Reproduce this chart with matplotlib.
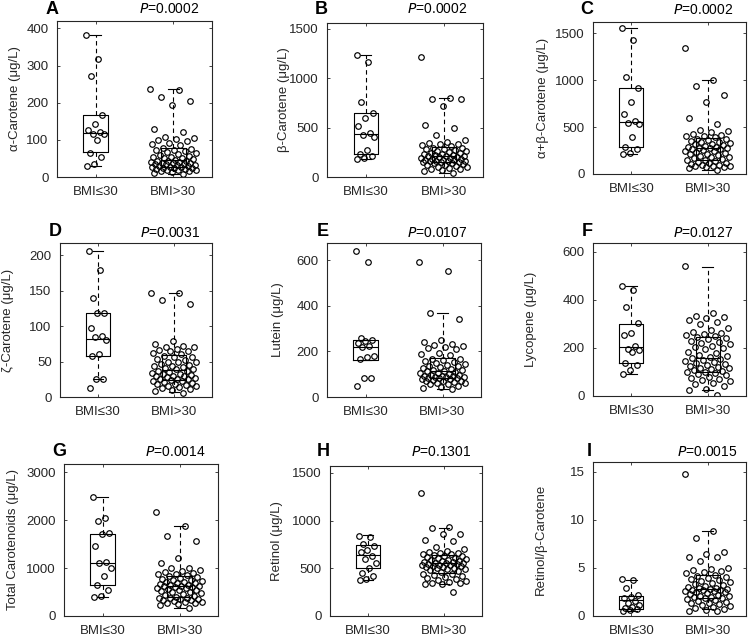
import numpy as np
import matplotlib
matplotlib.use("Agg")
import matplotlib.pyplot as plt

plt.rcParams['font.family'] = ['Liberation Sans', 'DejaVu Sans']
plt.rcParams['font.size'] = 10

# group names on the x axis
groups = ['BMI≤30', 'BMI>30']

# panel letters, p values, y labels
letters = ['A', 'B', 'C', 'D', 'E', 'F', 'G', 'H', 'I']
pvalues = ['0.0002', '0.0002', '0.0002', '0.0031', '0.0107', '0.0127', '0.0014', '0.1301', '0.0015']
ylabels = ['α-Carotene (μg/L)', 'β-Carotene (μg/L)', 'α+β-Carotene (μg/L)',
           'ζ-Carotene (μg/L)', 'Lutein (μg/L)', 'Lycopene (μg/L)',
           'Total Carotenoids (μg/L)', 'Retinol (μg/L)', 'Retinol/β-Carotene']
ymax = [420, 1560, 1620, 217, 675, 637, 3170, 1573, 16]
yticks = [[0, 100, 200, 300, 400], [0, 500, 1000, 1500], [0, 500, 1000, 1500],
          [0, 50, 100, 150, 200], [0, 200, 400, 600], [0, 200, 400, 600],
          [0, 1000, 2000, 3000], [0, 500, 1000, 1500], [0, 5, 10, 15]]

# values, BMI<=30 then BMI>30
a_low = [383, 318, 272, 167, 144, 126, 122, 117, 115, 99, 65, 54, 36, 30]
a_high = [236, 234, 215, 205, 193, 128, 120, 108, 105, 102, 100, 97, 92, 88, 85,
          78, 76, 74, 72, 70, 68, 65, 62, 58, 56, 55, 53, 51, 50, 48, 46,
          44, 43, 42, 41, 40, 39, 38, 37, 36, 35, 34, 33, 32, 30, 29, 28,
          27, 26, 25, 24, 23, 22, 21, 20, 19, 18, 16, 15, 14, 12, 8]
b_low = [1239, 1164, 764, 645, 594, 516, 448, 424, 407, 278, 238, 210, 197, 183]
b_high = [1212, 800, 795, 790, 720, 526, 492, 424, 370, 355, 345, 335, 330, 320, 310,
          298, 292, 285, 280, 275, 268, 262, 255, 248, 240, 236, 230, 225, 220, 217, 214,
          210, 205, 200, 196, 190, 186, 180, 176, 172, 168, 165, 162, 160, 158, 156, 155,
          150, 145, 140, 132, 125, 118, 110, 104, 98, 92, 85, 78, 70, 62, 40]
c_low = [1554, 1429, 1031, 914, 764, 640, 565, 540, 533, 391, 292, 267, 228, 213]
c_high = [1347, 1000, 938, 843, 764, 594, 530, 470, 455, 445, 430, 420, 410, 400, 390,
          375, 368, 360, 352, 345, 338, 330, 322, 315, 305, 298, 292, 286, 282, 278, 275,
          270, 262, 255, 248, 240, 232, 225, 218, 210, 200, 192, 184, 176, 168, 160, 152,
          145, 138, 130, 122, 115, 108, 100, 95, 90, 85, 80, 78, 70, 60, 40]
d_low = [206, 179, 140, 119, 118, 97, 86, 85, 80, 60, 58, 26, 25, 13]
d_high = [147, 146, 137, 131, 79, 74, 72, 71, 70, 68, 66, 65, 65, 62, 60,
          58, 57, 56, 54, 52, 50, 50, 49, 47, 45, 44, 43, 42, 41, 40, 39,
          37, 36, 35, 34, 33, 32, 31, 30, 30, 29, 28, 27, 26, 26, 25, 24,
          23, 22, 21, 20, 19, 18, 17, 16, 15, 14, 12, 11, 10, 8, 6]
e_low = [641, 593, 259, 252, 246, 237, 222, 217, 180, 176, 165, 85, 83, 47]
e_high = [593, 552, 366, 340, 252, 241, 234, 227, 222, 220, 215, 210, 195, 190, 185,
          168, 165, 162, 158, 155, 150, 146, 142, 138, 135, 130, 126, 122, 120, 118, 116,
          114, 110, 107, 104, 101, 98, 96, 94, 92, 90, 88, 87, 86, 85, 84, 83,
          80, 78, 75, 72, 70, 68, 65, 62, 60, 58, 55, 50, 45, 40, 34]
f_low = [459, 443, 369, 303, 264, 252, 209, 195, 192, 185, 139, 129, 109, 92]
f_high = [543, 345, 334, 329, 324, 317, 310, 300, 283, 273, 266, 262, 258, 255, 250,
          245, 240, 236, 230, 225, 220, 215, 210, 205, 200, 195, 185, 180, 172, 166, 162,
          158, 155, 150, 146, 142, 138, 135, 130, 126, 122, 118, 115, 112, 108, 105, 102,
          98, 95, 90, 86, 80, 76, 72, 68, 62, 56, 50, 40, 30, 25, 4]
g_low = [2480, 2051, 1974, 1732, 1718, 1462, 1129, 1115, 991, 838, 644, 540, 423, 388]
g_high = [2168, 1870, 1663, 1559, 1212, 1115, 1011, 1000, 960, 930, 910, 900, 880, 870, 850,
          830, 810, 790, 775, 760, 745, 730, 715, 700, 690, 680, 670, 655, 645, 635, 628,
          620, 610, 600, 590, 580, 565, 550, 540, 525, 510, 495, 480, 460, 440, 420, 400,
          385, 375, 365, 355, 345, 335, 325, 315, 300, 290, 280, 270, 250, 220, 160]
h_low = [841, 827, 760, 736, 691, 673, 631, 596, 551, 499, 446, 422, 387, 373]
h_high = [1294, 935, 924, 865, 855, 795, 785, 725, 700, 680, 670, 665, 660, 650, 645,
          635, 630, 625, 620, 612, 605, 598, 590, 585, 578, 572, 566, 562, 558, 555, 553,
          550, 545, 540, 535, 530, 525, 520, 515, 510, 505, 500, 495, 490, 480, 470, 460,
          445, 440, 430, 420, 410, 400, 390, 380, 370, 360, 350, 345, 340, 335, 255]
i_low = [3.85, 3.74, 2.94, 2.18, 2.0, 1.84, 1.56, 1.32, 1.14, 0.97, 0.80, 0.69, 0.59, 0.55]
i_high = [14.76, 8.83, 8.07, 6.69, 6.41, 6.17, 6.1, 5.72, 5.02, 4.9, 4.8, 4.68, 4.6, 4.45, 4.3,
          4.2, 4.1, 3.9, 3.8, 3.7, 3.6, 3.5, 3.4, 3.3, 3.2, 3.1, 3.0, 2.95, 2.9, 2.85, 2.8,
          2.75, 2.7, 2.65, 2.6, 2.55, 2.5, 2.45, 2.4, 2.3, 2.2, 2.1, 2.05, 2.0, 1.95, 1.9, 1.85,
          1.8, 1.7, 1.6, 1.5, 1.4, 1.3, 1.2, 1.1, 1.0, 0.9, 0.8, 0.7, 0.6, 0.5, 0.5]

values = [(a_low, a_high), (b_low, b_high), (c_low, c_high), (d_low, d_high), (e_low, e_high),
          (f_low, f_high), (g_low, g_high), (h_low, h_high), (i_low, i_high)]

# box stats: whislo, q1, med, q3, whishi
box_low = [(30, 68, 118, 167, 383), (183, 231, 431, 645, 1239), (213, 284, 551, 914, 1554),
           (26, 58, 82, 119, 206), (161, 161, 217, 252, 252), (92, 136, 203, 301, 459),
           (388, 644, 1115, 1718, 2480), (378, 500, 640, 745, 846), (0.55, 0.70, 1.67, 2.08, 3.75)]
box_high = [(8, 28, 45, 79, 236), (40, 155, 213, 301, 800), (40, 149, 273, 380, 1000),
            (7, 24, 38, 59, 147), (36, 82, 115, 169, 366), (25, 101, 160, 247, 538),
            (160, 389, 625, 840, 1870), (335, 448, 552, 640, 920), (0.70, 1.84, 2.78, 4.27, 8.78)]

# axes boxes in pixels: left, top, right, bottom
W, H = 748, 638
axes_px = [(57, 21, 212, 177), (327, 23, 483, 177), (593, 22, 746, 174),
           (60, 243, 212, 397), (327, 243, 481, 397), (593, 243, 746, 396),
           (64, 464, 218, 616), (330, 466, 482, 616), (593, 462, 746, 616)]
ylabel_px = [21, 290, 549, 14, 284, 537, 19, 283, 547]
letter_px = [(46, 9), (315, 9), (580, 10), (49, 232), (317, 232), (582, 232),
             (52, 451), (317, 451), (587, 451)]
ptext_px = [(169, 9), (437, 9), (703, 10), (170, 233), (437, 233), (703, 233),
            (175, 452), (441, 452), (707, 452)]

dark = '#262626'
fig = plt.figure(figsize=(W / 100, H / 100), dpi=100)


def spread(n, width):
    # fixed spread of points around the group centre
    k = np.arange(n)
    return ((k * 0.6180339887) % 1.0 - 0.5) * 2 * width


for p in range(9):
    l, t, r, b = axes_px[p]
    ax = fig.add_axes([l / W, 1 - b / H, (r - l) / W, (b - t) / H])
    stats = []
    for s in (box_low[p], box_high[p]):
        stats.append({'whislo': s[0], 'q1': s[1], 'med': s[2], 'q3': s[3],
                      'whishi': s[4], 'fliers': []})
    ax.bxp(stats, positions=[1, 2], widths=0.32, showfliers=False, capwidths=0.14,
           boxprops=dict(color='black', linewidth=0.8),
           medianprops=dict(color='black', linewidth=0.8),
           whiskerprops=dict(color='black', linewidth=0.8, linestyle=(0, (4, 3))),
           capprops=dict(color='black', linewidth=0.8))
    for g, vals in enumerate(values[p]):
        w = 0.12 if g == 0 else 0.3
        x = g + 1 + spread(len(vals), w)
        ax.plot(x, vals, 'o', markersize=4, markerfacecolor='none',
                markeredgecolor='black', markeredgewidth=0.85)
    ax.set_xlim(0.5, 2.5)
    ax.set_ylim(0, ymax[p])
    ax.set_yticks(yticks[p])
    ax.set_xticks([1, 2])
    ax.set_xticklabels(groups)
    ax.tick_params(direction='in', length=2.5, width=0.6, top=True, right=True,
                   colors=dark, labelsize=9.5)
    ax.tick_params(axis='y', pad=6)
    ax.tick_params(axis='x', pad=6.5)
    for sp in ax.spines.values():
        sp.set_linewidth(0.8)
        sp.set_color(dark)
    ax.set_ylabel(ylabels[p], fontsize=9.5, color=dark)
    ax.yaxis.set_label_coords(-(l - ylabel_px[p]) / (r - l), 0.5)

    lx, ly = letter_px[p]
    fig.text(lx / W, 1 - ly / H, letters[p], fontsize=13, fontweight='bold',
             ha='left', va='center', color='black')
    px, py = ptext_px[p]
    fig.text(px / W, 1 - py / H, r'$\it{P}$=' + pvalues[p], fontsize=10,
             ha='center', va='center', color='black')

fig.savefig('out.png', dpi=100)
